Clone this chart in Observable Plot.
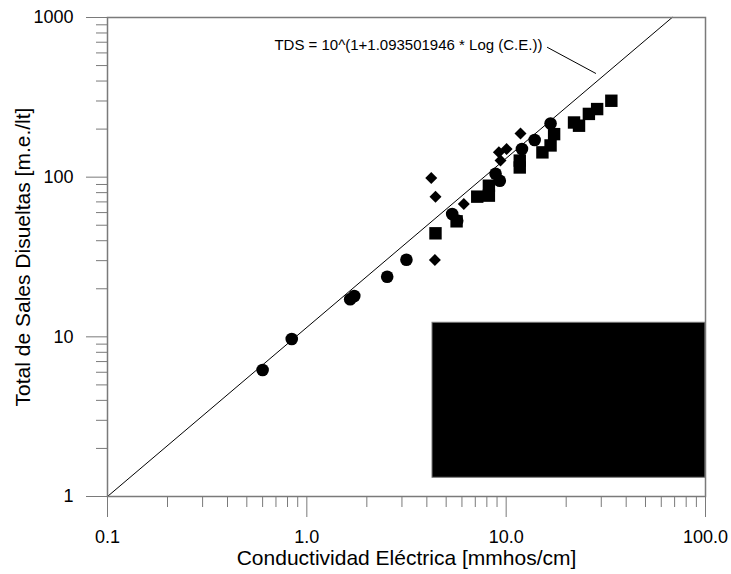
<!DOCTYPE html>
<html>
<head>
<meta charset="utf-8">
<script src="https://cdn.jsdelivr.net/npm/d3@7"></script>
<script src="https://cdn.jsdelivr.net/npm/@observablehq/plot@0.6"></script>
<style>
  html, body { margin: 0; padding: 0; background: white; }
</style>
</head>
<body>
<div id="chart"></div>
<script>
// ---- data ----
const circleX = [0.60, 0.84, 1.65, 1.73, 2.53, 3.16, 5.36, 5.68, 8.85, 9.29, 12.0, 13.9, 16.7];
const circleY = [6.2, 9.7, 17.2, 18.0, 23.8, 30.4, 58.8, 53.4, 105, 95, 150, 171, 217];

const squareX = [4.42, 5.64, 7.16, 8.19, 8.19, 11.7, 11.7, 15.2, 16.7, 17.4, 21.9, 23.2, 26.0, 28.6, 33.7];
const squareY = [44.5, 52.9, 75.5, 76.6, 88.4, 127, 115, 143, 158, 186, 220, 210, 249, 267, 301];

const diamondX = [4.21, 4.42, 4.39, 6.13, 9.19, 10.05, 9.37, 11.8];
const diamondY = [98.9, 75.5, 30.3, 67.9, 143, 150, 127, 188];

const fitX = [0.1, 68];
const fitY = [1, 1000];

const equationText = "TDS = 10^(1+1.093501946 * Log (C.E.))";
const leaderX = [16.1, 28.1];
const leaderY = [650, 447];
const labelPos = {x: 15.2, y: 675};

const legendBox = [{x1: 4.27, x2: 100, y1: 1.31, y2: 12.25}];

const xMajorTicks = [0.1, 1, 10, 100];
const xMajorLabels = ["0.1", "1.0", "10.0", "100.0"];
const yMajorTicks = [1, 10, 100, 1000];
const yMajorLabels = ["1", "10", "100", "1000"];
const minorMult = [2, 3, 4, 5, 6, 7, 8, 9];
const xMinorTicks = [0.1, 1, 10].flatMap(d => minorMult.map(m => +(d * m).toPrecision(3)));
const yMinorTicks = [1, 10, 100].flatMap(d => minorMult.map(m => d * m));

const xTitle = "Conductividad Eléctrica [mmhos/cm]";
const yTitle = "Total de Sales Disueltas [m.e./lt]";

// ---- build tables ----
const circles = circleX.map((x, i) => ({x, y: circleY[i]}));
const squares = squareX.map((x, i) => ({x, y: squareY[i]}));
const diamonds = diamondX.map((x, i) => ({x, y: diamondY[i]}));
const fit = fitX.map((x, i) => ({x, y: fitY[i]}));
const leader = leaderX.map((x, i) => ({x, y: leaderY[i]}));

const axisGray = "#7a7a7a";

const chart = Plot.plot({
  width: 731,
  height: 574,
  marginLeft: 107,
  marginRight: 26,
  marginTop: 17,
  marginBottom: 78,
  style: {fontFamily: "'Liberation Sans', Arial, sans-serif", background: "white", color: "black"},
  x: {type: "log", domain: [0.1, 100]},
  y: {type: "log", domain: [1, 1000]},
  marks: [
    Plot.rect(legendBox, {x1: "x1", x2: "x2", y1: "y1", y2: "y2", fill: "black", stroke: axisGray, strokeWidth: 1}),
    Plot.line(fit, {x: "x", y: "y", stroke: "black", strokeWidth: 1}),
    Plot.line(leader, {x: "x", y: "y", stroke: "black", strokeWidth: 1}),
    Plot.text([equationText], {x: () => labelPos.x, y: () => labelPos.y, text: d => d, textAnchor: "end", fontSize: 15, fill: "black"}),
    Plot.dot(circles, {x: "x", y: "y", symbol: "circle", r: 6.3, fill: "black"}),
    Plot.dot(squares, {x: "x", y: "y", symbol: "square", r: 7, fill: "black"}),
    Plot.dot(diamonds, {x: "x", y: "y", symbol: "diamond2", r: 5.4, fill: "black"}),
    Plot.axisX(xMinorTicks, {tickSize: 11, tickFormat: () => "", stroke: axisGray, label: null}),
    Plot.axisX(xMajorTicks, {tickSize: 21, tickPadding: 13, tickFormat: d => xMajorLabels[xMajorTicks.indexOf(d)], stroke: axisGray, fill: "black", fontSize: 18, label: null}),
    Plot.axisY(yMinorTicks, {tickSize: 11, tickFormat: () => "", stroke: axisGray, label: null}),
    Plot.axisY(yMajorTicks, {tickSize: 21, tickPadding: 13, tickFormat: d => yMajorLabels[yMajorTicks.indexOf(d)], stroke: axisGray, fill: "black", fontSize: 18, label: null}),
    Plot.frame({stroke: axisGray, strokeWidth: 1.5}),
    Plot.text([xTitle], {frameAnchor: "bottom", dy: 62, lineAnchor: "middle", text: d => d, fontSize: 21, fill: "black"}),
    Plot.text([yTitle], {frameAnchor: "left", dx: -84, rotate: -90, textAnchor: "middle", lineAnchor: "middle", text: d => d, fontSize: 21, fill: "black"})
  ]
});
document.getElementById("chart").appendChild(chart);
</script>
</body>
</html>
